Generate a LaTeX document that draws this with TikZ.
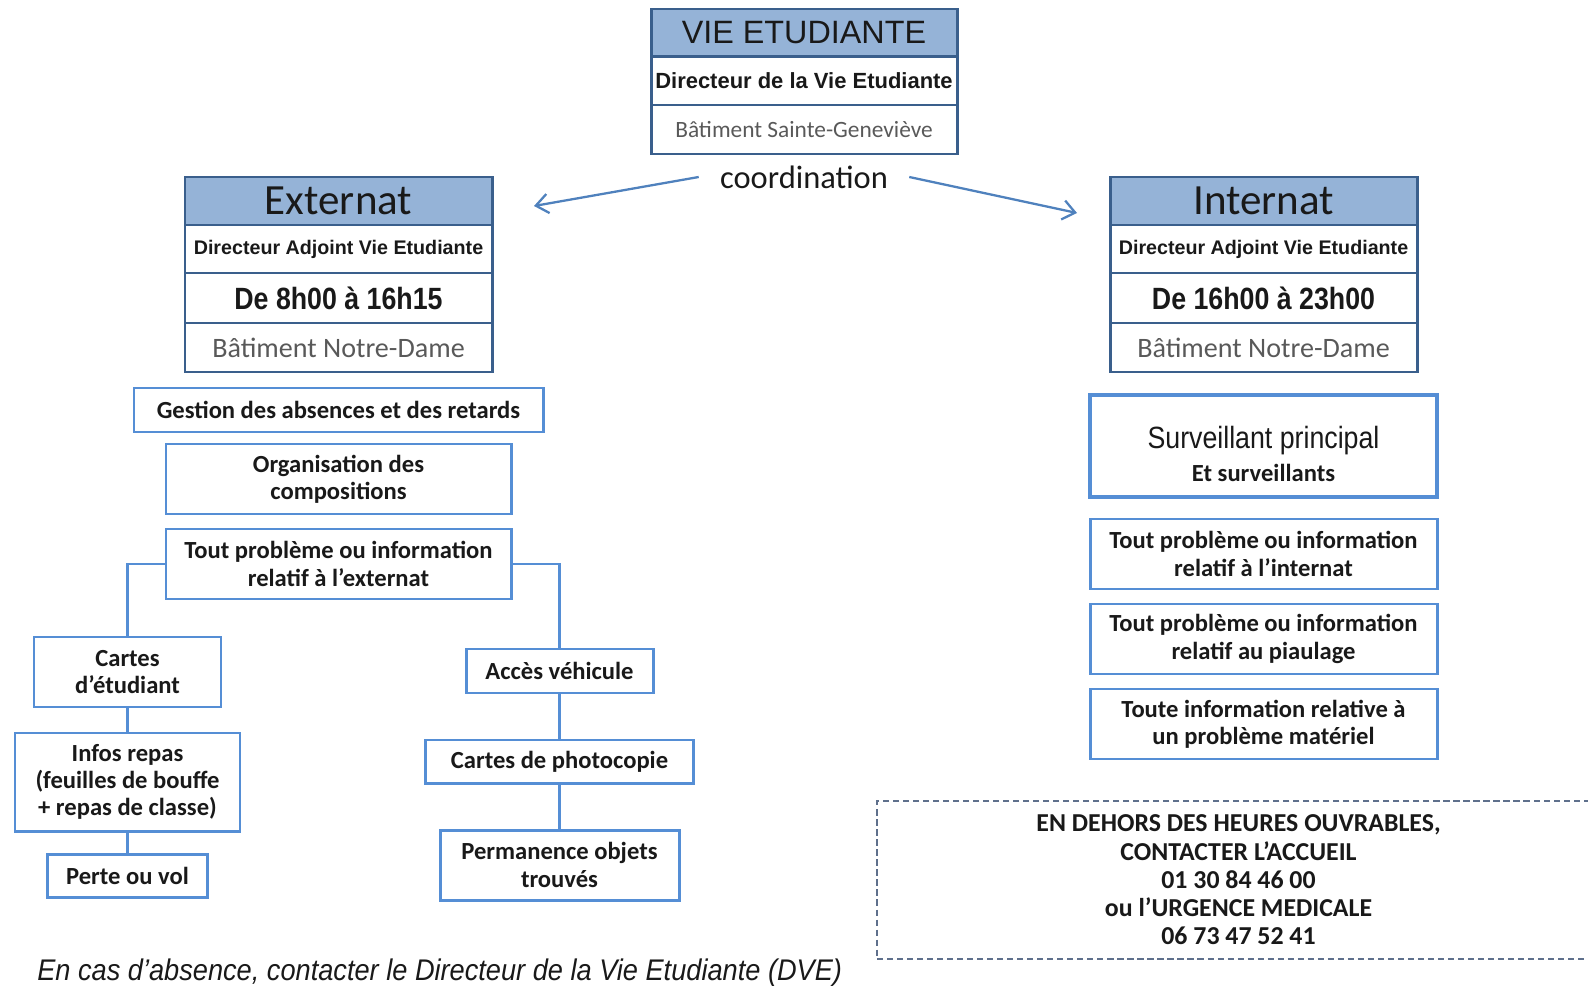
\documentclass[tikz,border=0pt]{standalone}
\usepackage{fontspec}
\setmainfont{Carlito}
\newfontfamily\arialf{Liberation Sans}
\newfontfamily\arialn[FakeStretch=0.87]{Liberation Sans}
\newfontfamily\arialm[FakeStretch=0.91]{Liberation Sans}
\usetikzlibrary{arrows.meta}
\newlength\pxl \setlength\pxl{0.02cm}
\definecolor{hdrfill}{RGB}{149,179,215}
\definecolor{hdrline}{RGB}{58,95,140}
\definecolor{boxline}{RGB}{85,142,213}
\definecolor{arrline}{RGB}{79,129,189}
\definecolor{dashline}{RGB}{95,112,140}
\definecolor{graytxt}{RGB}{89,89,89}
\definecolor{darktxt}{RGB}{25,25,25}
\tikzset{
  row/.style={draw=hdrline, line width=1.7pt, minimum width=307*\pxl, inner sep=0pt, align=center, text=darktxt},
  hdrrow/.style={row, fill=hdrfill, minimum height=48*\pxl},
  dirrow/.style={row, minimum height=48*\pxl, font=\arialf\bfseries\fontsize{11.2}{13}\selectfont},
  hrsrow/.style={row, minimum height=50*\pxl, font=\arialn\bfseries\fontsize{17.5}{20}\selectfont},
  batrow/.style={row, minimum height=49*\pxl, text=graytxt, font=\fontsize{16}{19}\selectfont},
  task/.style={draw=boxline, line width=1.7pt, fill=white, align=center, inner sep=0pt, text=darktxt,
    font=\bfseries\fontsize{14}{15.5}\selectfont},
  link/.style={draw=boxline, line width=1.7pt},
  coordarr/.style={draw=arrline, line width=1.3pt, -{Straight Barb[length=7pt,width=11pt,line width=1.3pt]}}
}
\begin{document}
\begin{tikzpicture}[x=0.02cm,y=-0.02cm]
  \useasboundingbox (0,0) rectangle (1588,986);

  \node[hdrrow, minimum width=306*\pxl, font=\arialf\fontsize{18.4}{21}\selectfont] (vie) at (804,33) {VIE ETUDIANTE};
  \node[dirrow, minimum width=306*\pxl, minimum height=49*\pxl, font=\arialf\bfseries\fontsize{12.5}{14}\selectfont] (viedir) at (804,80.5) {Directeur de la Vie Etudiante};
  \node[batrow, minimum width=306*\pxl, font=\fontsize{13.3}{15}\selectfont] (viebat) at (804,129.5) {Bâtiment Sainte-Geneviève};

  \node[inner ysep=2pt, inner xsep=0.42cm, font=\fontsize{18.5}{21}\selectfont, text=darktxt] (coord) at (804,177) {coordination};
  \coordinate (extarr) at (534,206);
  \coordinate (intarr) at (1077,213);
  \draw[coordarr] (coord.west) -- (extarr);
  \draw[coordarr] (coord.east) -- (intarr);

  \node[hdrrow, font=\fontsize{24.5}{28}\selectfont] (ext) at (338.5,201) {Externat};
  \node[dirrow] (extdir) at (338.5,249) {Directeur Adjoint Vie Etudiante};
  \node[hrsrow] (exthrs) at (338.5,298) {De 8h00 à 16h15};
  \node[batrow] (extbat) at (338.5,347.5) {Bâtiment Notre-Dame};

  \node[hdrrow, font=\fontsize{24.5}{28}\selectfont] (int) at (1263.5,201) {Internat};
  \node[dirrow] (intdir) at (1263.5,249) {Directeur Adjoint Vie Etudiante};
  \node[hrsrow] (inthrs) at (1263.5,298) {De 16h00 à 23h00};
  \node[batrow] (intbat) at (1263.5,347.5) {Bâtiment Notre-Dame};

  \node[task, minimum width=409*\pxl, minimum height=44*\pxl] (gestion) at (338.5,410) {Gestion des absences et des retards};
  \node[task, minimum width=345*\pxl, minimum height=70*\pxl] (orga) at (338.5,479) {Organisation des\\compositions};
  \node[task, minimum width=345*\pxl, minimum height=70*\pxl] (toutext) at (338.5,564) {Tout problème ou information\\relatif à l’externat};

  \node[task, minimum width=187*\pxl, minimum height=70*\pxl] (cartes) at (127.5,672) {Cartes\\d’étudiant};
  \node[task, minimum width=225*\pxl, minimum height=98*\pxl] (infos) at (127.5,782) {Infos repas\\(feuilles de bouffe\\+ repas de classe)};
  \node[task, minimum width=160*\pxl, minimum height=43*\pxl] (perte) at (127.5,875.5) {Perte ou vol};

  \node[task, minimum width=187*\pxl, minimum height=44*\pxl] (acces) at (559.5,671) {Accès véhicule};
  \node[task, minimum width=268*\pxl, minimum height=43*\pxl] (photo) at (559.5,761.5) {Cartes de photocopie};
  \node[task, minimum width=239*\pxl, minimum height=70*\pxl] (perma) at (559.5,865) {Permanence objets\\trouvés};

  \draw[link] (toutext.west) -| (cartes.north);
  \draw[link] (toutext.east) -| (acces.north);
  \draw[link] (cartes.south) -- (infos.north);
  \draw[link] (infos.south) -- (perte.north);
  \draw[link] (acces.south) -- (photo.north);
  \draw[link] (photo.south) -- (perma.north);

  \node[task, line width=2.4pt, minimum width=347*\pxl, minimum height=102*\pxl] (surv) at (1263.5,446)
    {\rule{0pt}{22pt}{\arialn\mdseries\fontsize{17.5}{20}\selectfont Surveillant principal}\\[3pt]Et surveillants};
  \node[task, minimum width=347*\pxl, minimum height=70*\pxl] (toutint) at (1263.5,554) {Tout problème ou information\\relatif à l’internat};
  \node[task, minimum width=347*\pxl, minimum height=70*\pxl] (piaul) at (1263.5,639) {Tout problème ou information\\relatif au piaulage};
  \node[task, minimum width=347*\pxl, minimum height=70*\pxl] (mater) at (1263.5,724) {Toute information relative à\\un problème matériel};

  \node[draw=dashline, line width=1.4pt, dash pattern=on 3.5pt off 2.2pt, minimum width=723*\pxl, minimum height=158*\pxl,
    inner sep=0pt, align=center, text=darktxt, font=\bfseries\fontsize{14.7}{16.1}\selectfont] (hors) at (1238.5,880)
    {EN DEHORS DES HEURES OUVRABLES,\\CONTACTER L’ACCUEIL\\01 30 84 46 00\\ou l’URGENCE MEDICALE\\06 73 47 52 41};

  \node[anchor=west, inner sep=0pt, text=darktxt, font=\arialm\itshape\fontsize{17}{20}\selectfont] (absence) at (37,973)
    {En cas d’absence, contacter le Directeur de la Vie Etudiante (DVE)};
\end{tikzpicture}
\end{document}
